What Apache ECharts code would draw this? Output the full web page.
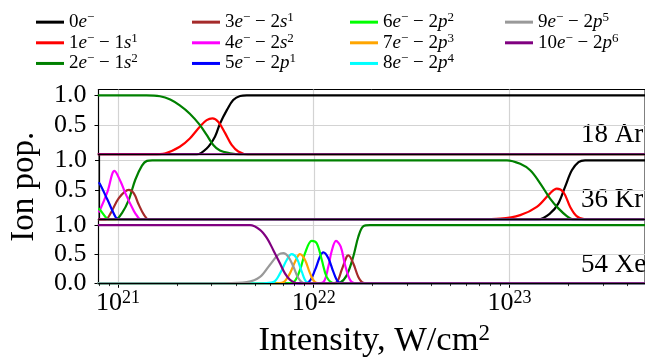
<!DOCTYPE html>
<html>
<head>
<meta charset="utf-8">
<script src="https://cdn.jsdelivr.net/npm/echarts@6/dist/echarts.min.js"></script>
<style>
html, body { margin: 0; padding: 0; background: #fff; }
#main { width: 645px; height: 360px; }
</style>
</head>
<body>
<div id="main"></div>
<script>
// x range (W/cm^2), ticks
var xMin = 7.96e20, xMax = 4.92e23;
var majorTicks = [1e21, 1e22, 1e23];
var yTicksUpper = [0.5, 1.0];
var yTicksLower = [0, 0.5, 1.0];
var panelLabels = ['18 Ar', '36 Kr', '54 Xe'];

// charge states (remaining electrons)
var states = ['0e', '1e', '2e', '3e', '4e', '5e', '6e', '7e', '8e', '9e', '10e'];
var shells = ['', '1s1', '1s2', '2s1', '2s2', '2p1', '2p2', '2p3', '2p4', '2p5', '2p6'];
var stateColors = ['#000000', '#ff0000', '#008000', '#a52a2a', '#ff00ff', '#0000ff',
                   '#00ff00', '#ffa500', '#00ffff', '#999999', '#800080'];

// 18 Ar
var ar0 = [[7.9e20,0],[2.53e21,0],[2.84e21,0.1],[3.13e21,0.3],[3.32e21,0.52],[3.6e21,0.75],[3.88e21,0.92],[4.21e21,0.99],[4.55e21,1],[5.6e23,1]];
var ar1 = [[7.9e20,0],[1.5e21,0],[1.75e21,0.02],[2.07e21,0.13],[2.33e21,0.27],[2.62e21,0.47],[2.84e21,0.58],[3.04e21,0.61],[3.26e21,0.55],[3.53e21,0.36],[3.81e21,0.16],[4.12e21,0.05],[4.6e21,0],[5.6e23,0]];
var ar2 = [[7.9e20,1],[1.4e21,1],[1.64e21,0.985],[1.85e21,0.93],[2.07e21,0.83],[2.33e21,0.69],[2.62e21,0.5],[2.84e21,0.33],[3.07e21,0.16],[3.32e21,0.065],[3.74e21,0.02],[4.2e21,0],[5.6e23,0]];
var ar10 = [[7.9e20,0],[5.6e23,0]];

// 36 Kr
var kr0 = [[7.9e20,0],[1.4e23,0],[1.61e23,0.1],[1.775e23,0.27],[1.92e23,0.55],[2.08e23,0.83],[2.25e23,0.97],[2.43e23,1],[5.6e23,1]];
var kr1 = [[7.9e20,0],[7e22,0],[8.95e22,0.01],[1.132e23,0.07],[1.377e23,0.21],[1.61e23,0.44],[1.742e23,0.52],[1.883e23,0.46],[2.04e23,0.21],[2.2e23,0.055],[2.43e23,0],[5.6e23,0]];
var kr2 = [[7.9e20,0],[9.67e20,0],[1.045e21,0.11],[1.13e21,0.33],[1.22e21,0.67],[1.32e21,0.91],[1.4e21,0.99],[1.49e21,1],[9.69e22,1],[1.132e23,0.94],[1.274e23,0.83],[1.432e23,0.61],[1.61e23,0.35],[1.775e23,0.185],[1.96e23,0.055],[2.1e23,0],[5.6e23,0]];
var kr3 = [[7.9e20,0],[8.59e20,0],[9.12e20,0.1],[1.005e21,0.36],[1.13e21,0.5],[1.2e21,0.44],[1.27e21,0.25],[1.35e21,0.08],[1.43e21,0],[5.6e23,0]];
var kr4 = [[7.9e20,0.12],[8.01e20,0.14],[8.8e20,0.47],[9.55e20,0.82],[1.026e21,0.64],[1.086e21,0.44],[1.2e21,0.14],[1.247e21,0.055],[1.3e21,0],[5.6e23,0]];
var kr5 = [[7.9e20,0.62],[8.01e20,0.61],[8.8e20,0.33],[9.67e20,0.04],[1.0e21,0],[5.6e23,0]];
var kr6 = [[7.9e20,0.18],[8.01e20,0.17],[8.59e20,0.04],[8.9e20,0],[5.6e23,0]];
var kr10 = [[7.9e20,0],[5.6e23,0]];

// 54 Xe
var xe2 = [[7.9e20,0],[1.3e22,0],[1.362e22,0.01],[1.475e22,0.14],[1.593e22,0.46],[1.69e22,0.8],[1.79e22,0.98],[1.94e22,1],[5.6e23,1]];
var xe3 = [[7.9e20,0],[1.23e22,0],[1.311e22,0.02],[1.39e22,0.23],[1.475e22,0.46],[1.503e22,0.48],[1.593e22,0.34],[1.69e22,0.11],[1.79e22,0.01],[1.9e22,0],[5.6e23,0]];
var xe4 = [[7.9e20,0],[1.03e22,0],[1.12e22,0.02],[1.188e22,0.29],[1.235e22,0.55],[1.3e22,0.73],[1.374e22,0.63],[1.445e22,0.32],[1.532e22,0.06],[1.62e22,0],[5.6e23,0]];
var xe5 = [[7.9e20,0],[8.5e21,0],[9.39e21,0.02],[1.016e22,0.23],[1.077e22,0.46],[1.12e22,0.53],[1.188e22,0.43],[1.259e22,0.2],[1.336e22,0.02],[1.42e22,0],[5.6e23,0]];
var xe6 = [[7.9e20,0],[7e21,0],[7.87e21,0.02],[8.51e21,0.23],[9.03e21,0.52],[9.77e21,0.73],[1.036e22,0.69],[1.1e22,0.4],[1.164e22,0.11],[1.24e22,0.01],[1.3e22,0],[5.6e23,0]];
var xe7 = [[7.9e20,0],[6.3e21,0],[7.0e21,0.02],[7.56e21,0.17],[8.03e21,0.37],[8.51e21,0.5],[9.03e21,0.4],[9.58e21,0.17],[1.016e22,0.02],[1.1e22,0],[5.6e23,0]];
var xe8 = [[7.9e20,0],[5.5e21,0],[6.22e21,0.02],[6.73e21,0.17],[7.28e21,0.4],[7.72e21,0.5],[8.19e21,0.43],[8.69e21,0.2],[9.21e21,0.02],[1e22,0],[5.6e23,0]];
var xe9 = [[7.9e20,0],[3.5e21,0],[4.55e21,0.02],[5.32e21,0.11],[5.98e21,0.32],[6.59e21,0.49],[7.0e21,0.52],[7.41e21,0.46],[7.87e21,0.29],[8.34e21,0.09],[8.8e21,0.01],[9.5e21,0],[5.6e23,0]];
var xe10 = [[7.9e20,1],[4.73e21,1],[5.32e21,0.92],[5.76e21,0.78],[6.22e21,0.57],[6.73e21,0.34],[7.13e21,0.17],[7.56e21,0.06],[8.03e21,0.01],[8.6e21,0],[5.6e23,0]];

var panels = [
    { '0e': ar0, '1e': ar1, '2e': ar2, '10e': ar10 },
    { '0e': kr0, '1e': kr1, '2e': kr2, '3e': kr3, '4e': kr4, '5e': kr5, '6e': kr6, '10e': kr10 },
    { '2e': xe2, '3e': xe3, '4e': xe4, '5e': xe5, '6e': xe6, '7e': xe7, '8e': xe8, '9e': xe9, '10e': xe10 }
];

var FONT = 'Liberation Serif';
var gridTops = [89.5, 154.4, 219.3];
var gridHeights = [64.9, 64.9, 64];

// minor ticks 2..9 x 10^n
var minorTicks = [];
[1e20, 1e21, 1e22, 1e23].forEach(function (d) {
    for (var k = 2; k <= 9; k++) {
        var v = k * d;
        if (v >= xMin && v <= xMax) minorTicks.push(v);
    }
});

function legendLabel(name) {
    var idx = states.indexOf(name);
    var s = '{n|' + idx + '}{i|e}{u|\u2212}';
    var sh = shells[idx];
    if (sh) {
        s += '{n| \u2212 ' + sh.charAt(0) + '}{i|' + sh.charAt(1) + '}{u|' + sh.charAt(2) + '}';
    }
    return s;
}

var legendRich = {
    n: { fontFamily: FONT, fontSize: 19, lineHeight: 22.3, color: '#000' },
    i: { fontFamily: FONT, fontSize: 19, fontStyle: 'italic', lineHeight: 22.3, color: '#000' },
    u: { fontFamily: FONT, fontSize: 13, lineHeight: 13, verticalAlign: 'top', color: '#000' }
};

var legendCols = [
    { left: 36, data: ['0e', '1e', '2e'] },
    { left: 192, data: ['3e', '4e', '5e'] },
    { left: 350, data: ['6e', '7e', '8e'] },
    { left: 505, data: ['9e', '10e'] }
];

var grids = [], xAxes = [], yAxes = [], series = [], graphics = [];

for (var g = 0; g < 3; g++) {
    var isBottom = g === 2;
    grids.push({
        left: 98.5, right: 0, top: gridTops[g], height: gridHeights[g],
        show: true, borderColor: '#000', borderWidth: 1, backgroundColor: 'transparent'
    });
    // main x axis: grid lines, major ticks, labels
    xAxes.push({
        type: 'log', logBase: 10, gridIndex: g, min: xMin, max: xMax,
        axisLine: { show: false },
        axisTick: { show: isBottom, customValues: majorTicks, length: 4.5, lineStyle: { color: '#000', width: 1 } },
        axisLabel: {
            show: isBottom, customValues: majorTicks, margin: 6,
            formatter: function (v) {
                return '{b|10}{s|' + Math.round(Math.log10(v)) + '}';
            },
            rich: {
                b: { fontFamily: FONT, fontSize: 26, lineHeight: 28, color: '#000' },
                s: { fontFamily: FONT, fontSize: 18, lineHeight: 17, verticalAlign: 'top', color: '#000' }
            }
        },
        splitLine: { show: true, lineStyle: { color: '#d3d3d3', width: 1.2 } },
        name: isBottom ? '{a|Intensity, W/cm}{b|2}' : '',
        nameLocation: 'middle', nameGap: 39,
        nameTextStyle: {
            padding: [0, 0, 0, 5],
            rich: {
                a: { fontFamily: FONT, fontSize: 34.5, lineHeight: 38, color: '#000' },
                b: { fontFamily: FONT, fontSize: 23, lineHeight: 22, verticalAlign: 'top', color: '#000' }
            }
        }
    });
    // overlay x axis: spine above curves, minor ticks
    xAxes.push({
        type: 'log', logBase: 10, gridIndex: g, min: xMin, max: xMax,
        position: 'bottom', offset: 0, z: 5,
        axisLine: { show: true, lineStyle: { color: '#000', width: 1.2 } },
        axisTick: { show: isBottom, customValues: minorTicks, length: 2.8, lineStyle: { color: '#000', width: 0.8 } },
        axisLabel: { show: false },
        splitLine: { show: false }
    });
    var yt = isBottom ? yTicksLower : yTicksUpper;
    yAxes.push({
        type: 'value', gridIndex: g, min: 0, max: 1.1, interval: 0.5,
        axisLine: { show: true, lineStyle: { color: '#000', width: 1.2 } },
        axisTick: { show: true, customValues: yt, length: 4, lineStyle: { color: '#000' } },
        axisLabel: {
            customValues: yt, margin: 12, fontFamily: FONT, fontSize: 26, color: '#000',
            formatter: function (v) { return v.toFixed(1); }
        },
        splitLine: { show: true, lineStyle: { color: '#d3d3d3', width: 1.2 } },
        name: g === 1 ? 'Ion pop.' : '',
        nameLocation: 'middle', nameRotate: 90, nameGap: 58,
        nameTextStyle: { fontFamily: FONT, fontSize: 33, color: '#000' }
    });
    states.forEach(function (st, k) {
        var d = panels[g][st];
        if (!d) return;
        series.push({
            name: st, type: 'line', xAxisIndex: g * 2, yAxisIndex: g,
            data: d, color: stateColors[k], showSymbol: false, symbol: 'none',
            smooth: 0.35,
            lineStyle: { width: 2.2, color: stateColors[k] },
            silent: true, animation: false
        });
    });
    graphics.push({
        type: 'text', left: 581, top: gridTops[g] + 32,
        style: { text: panelLabels[g], font: '27px "' + FONT + '"', fill: '#000' }
    });
}

var chart = echarts.init(document.getElementById('main'));
chart.setOption({
    backgroundColor: '#fff',
    animation: false,
    legend: legendCols.map(function (c) {
        return {
            left: c.left, top: 11, padding: 0, orient: 'vertical', itemGap: 0,
            itemWidth: 28, itemHeight: 3, icon: 'rect', selectedMode: false,
            data: c.data, formatter: legendLabel,
            textStyle: { rich: legendRich }
        };
    }),
    grid: grids,
    xAxis: xAxes,
    yAxis: yAxes,
    series: series,
    graphic: graphics
});
</script>
</body>
</html>
